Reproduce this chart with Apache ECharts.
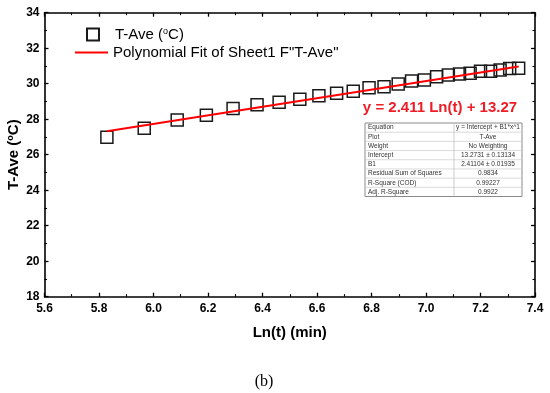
<!DOCTYPE html>
<html><head><meta charset="utf-8">
<script src="https://cdn.jsdelivr.net/npm/echarts@6/dist/echarts.min.js"></script>
<style>html,body{margin:0;padding:0;background:#fff}#c{width:550px;height:393px}</style>
</head><body><div id="c"></div>
<script>
// Data
const lnT = [5.829, 5.966, 6.087, 6.194, 6.292, 6.380, 6.461, 6.537, 6.607, 6.672, 6.733, 6.791, 6.846,
             6.898, 6.947, 6.994, 7.039, 7.082, 7.123, 7.162, 7.200, 7.237, 7.272, 7.307, 7.340];
const tAve = [26.98, 27.49, 27.95, 28.22, 28.60, 28.82, 28.95, 29.12, 29.32, 29.46, 29.57, 29.77, 29.83,
              29.98, 30.15, 30.21, 30.39, 30.49, 30.55, 30.59, 30.70, 30.70, 30.77, 30.85, 30.87];
const fitX = [5.829, 7.340];
const fitY = [27.32, 30.97];
const xTicks = [5.6, 5.8, 6.0, 6.2, 6.4, 6.6, 6.8, 7.0, 7.2, 7.4];
const yTicks = [18, 20, 22, 24, 26, 28, 30, 32, 34];
const tableRows = [
  ['Equation', 'y = Intercept + B1*x^1'],
  ['Plot', 'T-Ave'],
  ['Weight', 'No Weighting'],
  ['Intercept', '13.2731 \u00b1 0.13134'],
  ['B1', '2.41104 \u00b1 0.01935'],
  ['Residual Sum of Squares', '0.9834'],
  ['R-Square (COD)', '0.99227'],
  ['Adj. R-Square', '0.9922']
];
const eqText = 'y = 2.411 Ln(t) + 13.27';
const scatterName = 'T-Ave';
const fitName = 'Polynomial Fit of Sheet1 F"T-Ave"';

const chart = echarts.init(document.getElementById('c'), null, {renderer: 'canvas'});
const F = 'Liberation Sans, Arial, sans-serif';
const gl = 44.5, gt = 12.7, gr = 535, gb = 296.7;

const axisCommon = {
  axisLine: {show: true, onZero: false, lineStyle: {color: '#000', width: 1.6}},
  axisTick: {show: true, inside: true, length: 4, lineStyle: {color: '#000', width: 1.3}},
  minorTick: {show: true, splitNumber: 2, length: 2.5, lineStyle: {color: '#000', width: 1.1}},
  splitLine: {show: false}
};

// table graphic
const tbl = {x: 365, y: 123, w: 157, h: 73.5, c: 454};
const rowH = tbl.h / tableRows.length;
const tableEls = [];
tableEls.push({type: 'rect', shape: {x: tbl.x, y: tbl.y, width: tbl.w, height: tbl.h},
  style: {fill: '#fff', stroke: '#8a8a8a', lineWidth: 1}, z: 10});
for (let i = 1; i < tableRows.length; i++) {
  tableEls.push({type: 'line', shape: {x1: tbl.x, y1: tbl.y + i * rowH, x2: tbl.x + tbl.w, y2: tbl.y + i * rowH},
    style: {stroke: '#d0d0d0', lineWidth: 0.8}, z: 11});
}
tableEls.push({type: 'line', shape: {x1: tbl.c, y1: tbl.y, x2: tbl.c, y2: tbl.y + tbl.h},
  style: {stroke: '#c0c0c0', lineWidth: 0.8}, z: 11});
tableRows.forEach((r, i) => {
  const cy = tbl.y + (i + 0.5) * rowH;
  tableEls.push({type: 'text', x: tbl.x + 3, y: cy, z: 12,
    style: {text: r[0], font: '6.5px ' + F, fill: '#333', verticalAlign: 'middle', align: 'left'}});
  tableEls.push({type: 'text', x: (tbl.c + tbl.x + tbl.w) / 2, y: cy, z: 12,
    style: {text: r[1], font: '6.5px ' + F, fill: '#333', verticalAlign: 'middle', align: 'center'}});
});

const legendText = {fontFamily: F, fontSize: 15, color: '#000',
  rich: {a: {fontFamily: F, fontSize: 15, color: '#000'},
         s: {fontFamily: F, fontSize: 9, color: '#000', verticalAlign: 'top', padding: [0, 0, 6, 0]}}};

const option = {
  animation: false,
  backgroundColor: '#fff',
  grid: {left: gl, top: gt, width: gr - gl, height: gb - gt, containLabel: false, outerBoundsMode: 'none'},
  legend: [
    {
      orient: 'vertical', left: 86, top: 27, padding: 0, itemWidth: 12, itemHeight: 12,
      data: [{name: scatterName, icon: 'rect'}],
      formatter: () => '{a|T-Ave (}{s|o}{a|C)}',
      textStyle: Object.assign({padding: [0, 0, 0, 11]}, legendText)
    },
    {
      orient: 'vertical', left: 75, top: 45, padding: 0, itemWidth: 33, itemHeight: 2,
      data: [{name: fitName, icon: 'path://M0,0H33V2H0Z'}],
      formatter: n => '{a|' + n + '}',
      textStyle: legendText
    }
  ],
  xAxis: [
    Object.assign({}, axisCommon, {
      type: 'value', min: 5.6, max: 7.4, interval: 0.2, position: 'bottom',
      axisLabel: {fontFamily: F, fontSize: 12, fontWeight: 'bold', color: '#000', margin: 6,
        formatter: v => { const m = xTicks.find(t => Math.abs(t - v) < 1e-6); return m !== undefined ? m.toFixed(1) : ''; }},
      name: 'Ln(t) (min)', nameLocation: 'middle', nameGap: 29, nameMoveOverlap: false,
      nameTextStyle: {fontFamily: F, fontSize: 15, fontWeight: 'bold', color: '#000'}
    }),
    Object.assign({}, axisCommon, {
      type: 'value', min: 5.6, max: 7.4, interval: 0.2, position: 'top', axisLabel: {show: false}
    })
  ],
  yAxis: [
    Object.assign({}, axisCommon, {
      type: 'value', min: 18, max: 34, interval: 2, position: 'left',
      axisLabel: {fontFamily: F, fontSize: 12, fontWeight: 'bold', color: '#000', margin: 5,
        formatter: v => { const m = yTicks.find(t => Math.abs(t - v) < 1e-6); return m !== undefined ? String(m) : ''; }},
      name: 'T-Ave ({s|o}C)', nameLocation: 'middle', nameGap: 23, nameRotate: 90, nameMoveOverlap: false,
      nameTextStyle: {fontFamily: F, fontSize: 15, fontWeight: 'bold', color: '#000',
        rich: {s: {fontFamily: F, fontSize: 9, fontWeight: 'bold', color: '#000', verticalAlign: 'top', padding: [0, 0, 6, 0]}}}
    }),
    Object.assign({}, axisCommon, {
      type: 'value', min: 18, max: 34, interval: 2, position: 'right', axisLabel: {show: false}
    })
  ],
  series: [
    {
      name: scatterName, type: 'scatter', xAxisIndex: 0, yAxisIndex: 0,
      symbol: 'rect', symbolSize: 12,
      itemStyle: {color: 'rgba(255,255,255,0)', borderColor: '#1a1a1a', borderWidth: 1.5, opacity: 1},
      data: lnT.map((x, i) => [x, tAve[i]]), z: 3
    },
    {
      name: fitName, type: 'line', xAxisIndex: 0, yAxisIndex: 0,
      symbol: 'none', showSymbol: false,
      lineStyle: {color: '#ff0000', width: 2}, itemStyle: {color: '#ff0000'},
      data: fitX.map((x, i) => [x, fitY[i]]), z: 4
    }
  ],
  graphic: [
    {type: 'text', x: 440, y: 108, z: 10,
      style: {text: eqText, font: 'bold 15px ' + F, fill: '#ee1c25', align: 'center', verticalAlign: 'middle'}},
    {type: 'group', children: tableEls},
    {type: 'text', x: 264, y: 382,
      style: {text: '(b)', font: '16px Liberation Serif, Times New Roman, serif', fill: '#000', align: 'center', verticalAlign: 'middle'}}
  ]
};
chart.setOption(option);
</script>
</body></html>
